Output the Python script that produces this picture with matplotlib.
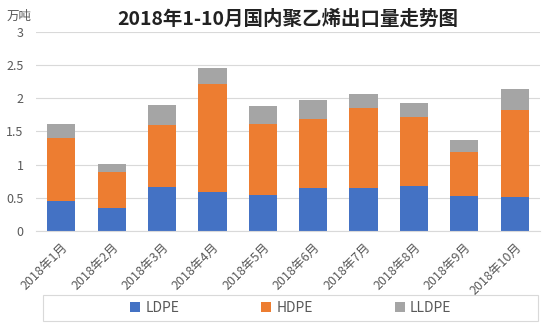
import matplotlib
matplotlib.use("Agg")
import matplotlib.pyplot as plt
from matplotlib.patches import Rectangle
import numpy as np

plt.rcParams['font.family'] = ['Noto Sans CJK SC', 'DejaVu Sans']

months = ["2018年1月", "2018年2月", "2018年3月", "2018年4月", "2018年5月",
          "2018年6月", "2018年7月", "2018年8月", "2018年9月", "2018年10月"]
ldpe = [0.45, 0.35, 0.665, 0.585, 0.545, 0.65, 0.65, 0.68, 0.53, 0.515]
hdpe = [0.95, 0.535, 0.93, 1.625, 1.075, 1.045, 1.20, 1.035, 0.66, 1.305]
lldpe = [0.22, 0.12, 0.30, 0.25, 0.27, 0.285, 0.22, 0.22, 0.175, 0.325]
yticks = [0, 0.5, 1, 1.5, 2, 2.5, 3]
ytick_labels = ["0", "0.5", "1", "1.5", "2", "2.5", "3"]

colors = {"LDPE": "#4472C4", "HDPE": "#ED7D31", "LLDPE": "#A5A5A5"}
txt = "#595959"

fig = plt.figure(figsize=(5.56, 3.32), dpi=100)
ax = fig.add_axes([0.065, 0.304, 0.906, 0.600])

x = np.arange(len(months))
w = 0.56
ldpe = np.array(ldpe)
hdpe = np.array(hdpe)
lldpe = np.array(lldpe)
ax.bar(x, ldpe, w, color=colors["LDPE"], label="LDPE", zorder=2)
ax.bar(x, hdpe, w, bottom=ldpe, color=colors["HDPE"], label="HDPE", zorder=2)
ax.bar(x, lldpe, w, bottom=ldpe + hdpe, color=colors["LLDPE"], label="LLDPE", zorder=2)

ax.set_xlim(-0.5, len(months) - 0.5)
ax.set_ylim(0, 3)
ax.set_yticks(yticks)
ax.set_yticklabels(ytick_labels)
ax.yaxis.grid(True, color="#d9d9d9", linewidth=0.8, zorder=0)
ax.set_xticks(x)
ax.set_xticklabels(months, rotation=45, ha="right", rotation_mode="anchor")
ax.tick_params(axis="both", length=0, labelsize=9, colors=txt)
ax.tick_params(axis="y", pad=9)
ax.tick_params(axis="x", pad=7)
for s in ["top", "right", "left"]:
    ax.spines[s].set_visible(False)
ax.spines["bottom"].set_color("#d9d9d9")

ax.set_title("2018年1-10月国内聚乙烯出口量走势图", fontsize=14, color="#222222",
             pad=5, fontweight="bold")
fig.text(0.034, 0.950, "万吨", fontsize=9, color=txt, ha="center", va="center")

# legend frame drawn separately so its width matches the reference
fig.patches.append(Rectangle((43 / 556, 1 - 321 / 332), 495 / 556, 26 / 332,
                             transform=fig.transFigure, fill=False,
                             edgecolor="#d9d9d9", linewidth=0.8))
leg = fig.legend(loc="center", bbox_to_anchor=(0.523, 1 - 308 / 332), ncol=3,
                 frameon=False, fontsize=10, handlelength=0.7, handleheight=0.7,
                 handletextpad=0.4, columnspacing=5.9)
for t in leg.get_texts():
    t.set_color(txt)

fig.savefig("out.png", dpi=100)
